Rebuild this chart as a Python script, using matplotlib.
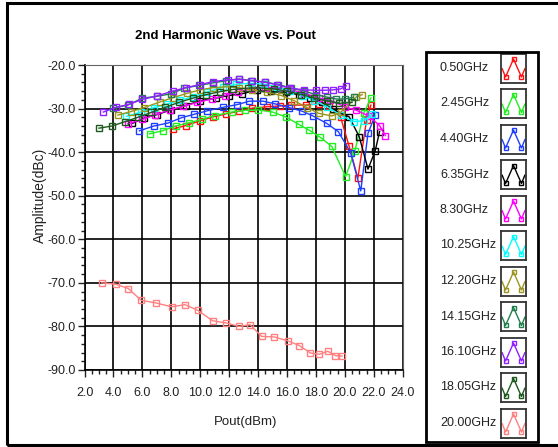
import numpy as np
import matplotlib
matplotlib.use('Agg')
from matplotlib import pyplot as plt
from matplotlib.patches import Rectangle
from matplotlib.ticker import MultipleLocator, FormatStrFormatter

# Pout (dBm) and 2nd harmonic amplitude (dBc), one pair per frequency
p_050 = [8.1, 9.0, 10.0, 10.9, 11.8, 12.7, 13.6, 14.6, 15.5, 16.3, 17.3, 18.2, 18.9, 19.7, 20.3, 20.9, 21.5, 21.8]
a_050 = [-34.7, -33.9, -32.8, -31.9, -31.2, -30.6, -29.9, -29.6, -29.4, -29.2, -29.2, -28.9, -29.5, -31.9, -38.7, -46.0, -32.6, -29.2]

p_245 = [6.5, 7.4, 8.3, 9.2, 10.1, 11.0, 12.2, 13.1, 14.0, 15.0, 15.9, 16.8, 17.5, 18.3, 19.1, 20.05, 20.7, 21.3, 21.8]
a_245 = [-35.8, -35.1, -34.0, -33.3, -32.5, -31.6, -30.8, -30.4, -30.3, -30.8, -31.9, -33.6, -34.9, -36.6, -38.7, -45.6, -39.7, -31.1, -27.6]

p_440 = [5.8, 6.8, 7.8, 8.7, 9.6, 10.5, 11.6, 12.55, 13.4, 14.35, 15.15, 16.15, 17.05, 17.8, 18.75, 19.55, 20.4, 21.1, 21.6, 22.1]
a_440 = [-35.1, -34.0, -33.3, -32.1, -31.3, -30.5, -29.7, -29.1, -28.3, -28.3, -28.9, -29.8, -30.6, -31.7, -33.4, -35.3, -40.1, -48.9, -35.7, -31.5]

p_635 = [5.3, 6.1, 7.0, 8.0, 9.0, 10.0, 11.1, 12.0, 12.9, 13.9, 14.9, 15.9, 16.8, 17.6, 18.4, 19.2, 20.3, 21.0, 21.6, 22.1, 22.4]
a_635 = [-33.4, -32.2, -31.4, -30.3, -29.3, -28.2, -27.6, -27.0, -26.6, -25.8, -26.0, -26.3, -26.8, -27.5, -28.5, -30.2, -31.9, -36.5, -43.9, -39.7, -35.3]

p_830 = [5.0, 6.0, 6.9, 7.9, 8.8, 9.8, 10.8, 11.7, 12.6, 13.6, 14.5, 15.3, 16.2, 17.2, 18.2, 19.0, 20.0, 20.8, 21.7, 22.4, 22.8]
a_830 = [-33.5, -32.5, -31.4, -30.3, -29.5, -28.6, -27.8, -27.0, -26.1, -25.5, -25.2, -25.1, -25.6, -26.5, -27.6, -28.1, -29.6, -30.4, -31.8, -33.9, -36.2]

p_1025 = [4.9, 5.9, 6.8, 7.7, 8.6, 9.5, 10.5, 11.6, 12.5, 13.5, 14.4, 15.3, 16.2, 17.1, 17.9, 18.8, 19.7, 20.6, 21.3, 21.9]
a_1025 = [-31.8, -30.8, -29.8, -29.0, -28.1, -27.3, -26.2, -25.0, -24.4, -24.2, -24.4, -25.0, -25.9, -27.0, -28.2, -29.6, -31.5, -33.0, -32.8, -31.3]

p_1220 = [4.3, 5.2, 6.1, 7.2, 8.1, 9.1, 10.0, 10.9, 11.8, 12.7, 13.6, 14.6, 15.6, 16.5, 17.4, 18.2, 19.1, 19.7, 20.8, 21.2]
a_1220 = [-31.5, -30.7, -29.8, -28.5, -27.5, -26.5, -25.7, -25.2, -25.0, -25.2, -25.7, -26.3, -27.0, -28.2, -29.8, -31.1, -31.7, -30.9, -27.3, -26.8]

p_1415 = [4.0, 5.0, 6.0, 7.0, 8.0, 8.9, 9.9, 10.9, 11.8, 12.7, 13.5, 14.5, 15.4, 16.3, 17.2, 18.0, 18.8, 19.4, 20.0, 20.6]
a_1415 = [-29.9, -29.2, -27.6, -27.2, -26.6, -25.3, -24.7, -24.1, -23.6, -23.2, -23.6, -23.9, -24.5, -25.3, -26.0, -26.8, -27.4, -27.8, -27.8, -27.4]

p_1610 = [3.3, 4.2, 5.1, 6.0, 7.0, 8.1, 9.0, 10.0, 10.9, 11.9, 12.7, 13.6, 14.5, 15.3, 16.2, 17.2, 18.0, 18.6, 19.2, 19.7, 20.1]
a_1610 = [-30.8, -29.7, -29.0, -27.9, -27.1, -26.0, -25.2, -24.5, -23.8, -23.4, -23.3, -23.6, -24.0, -24.5, -25.3, -25.7, -25.8, -25.8, -25.7, -25.5, -24.8]

p_1805 = [3.0, 3.9, 4.8, 5.7, 6.6, 7.6, 8.5, 9.5, 10.4, 11.4, 12.3, 13.3, 14.2, 15.1, 16.0, 17.0, 17.9, 18.8, 19.6, 20.5]
a_1805 = [-34.5, -34.0, -33.0, -32.0, -30.9, -29.7, -28.6, -27.6, -26.8, -26.1, -25.6, -25.3, -25.3, -25.5, -26.0, -26.8, -27.6, -28.3, -28.8, -28.6]

p_2000 = [3.19, 4.16, 5.03, 5.91, 6.92, 8.03, 8.95, 9.83, 10.86, 11.79, 12.68, 13.45, 14.25, 15.1, 16.05, 16.86, 17.62, 18.24, 18.82, 19.35, 19.81]
a_2000 = [-70.0, -70.3, -71.3, -74.0, -74.6, -75.5, -75.0, -76.3, -78.7, -79.2, -80.0, -79.6, -82.3, -82.4, -83.3, -84.4, -86.1, -86.4, -85.7, -86.7, -86.8]

labels = ['0.50GHz', '2.45GHz', '4.40GHz', '6.35GHz', '8.30GHz', '10.25GHz',
          '12.20GHz', '14.15GHz', '16.10GHz', '18.05GHz', '20.00GHz']
colors = ['#ff1010', '#22ee22', '#1f3fff', '#000000', '#ff00ff', '#00ffff',
          '#9a9520', '#1f7f4f', '#8f20ff', '#1e5a1e', '#ff8080']
xs = [p_050, p_245, p_440, p_635, p_830, p_1025, p_1220, p_1415, p_1610, p_1805, p_2000]
ys = [a_050, a_245, a_440, a_635, a_830, a_1025, a_1220, a_1415, a_1610, a_1805, a_2000]

W, H = 558, 447
plt.rcParams['font.family'] = ['Liberation Sans', 'DejaVu Sans']


def fx(px):
    return px / W


def fy(py):
    return 1 - py / H


fig = plt.figure(figsize=(W / 100, H / 100), dpi=100)
fig.patch.set_facecolor('white')

# outer frame (right side runs off the picture)
fig.add_artist(Rectangle((fx(7), fy(445)), fx(600), (445 - 3) / H, transform=fig.transFigure,
                         fill=False, edgecolor='black', linewidth=2.2))

ax = fig.add_axes([fx(84.5), fy(370), (402.7 - 84.5) / W, (370 - 65) / H])
for x, y, c in zip(xs, ys, colors):
    ax.plot(x, y, color=c, linewidth=1.0, marker='s', markersize=4.2,
            markerfacecolor='none', markeredgecolor=c, markeredgewidth=1.0, zorder=3)

ax.set_xlim(2, 24)
ax.set_ylim(-90, -20)
ax.xaxis.set_major_locator(MultipleLocator(2))
ax.xaxis.set_minor_locator(MultipleLocator(0.5))
ax.yaxis.set_major_locator(MultipleLocator(10))
ax.yaxis.set_minor_locator(MultipleLocator(2))
ax.xaxis.set_major_formatter(FormatStrFormatter('%.1f'))
ax.yaxis.set_major_formatter(FormatStrFormatter('%.1f'))
ax.grid(True, which='major', color='black', linewidth=1.2, zorder=1)
ax.set_axisbelow(True)
ax.tick_params(axis='both', which='major', labelsize=9, colors='#222222', length=5, width=1)
ax.tick_params(axis='both', which='minor', length=3, width=1, colors='#222222')
ax.tick_params(axis='x', which='major', pad=7)
ax.tick_params(axis='y', which='major', pad=1.5)
for s in ['top', 'right']:
    ax.spines[s].set_color('#666666')
for s in ['left', 'bottom']:
    ax.spines[s].set_color('black')
    ax.spines[s].set_linewidth(1.2)

fig.text(fx(40), fy(195), 'Amplitude(dBc)', rotation=90, ha='center', va='center',
         fontsize=10, color='#222222')
fig.text(fx(246), fy(422), 'Pout(dBm)', ha='center', va='center', fontsize=9.5, color='#222222')
fig.text(fx(225), fy(36), '2nd Harmonic Wave vs. Pout', ha='center', va='center',
         fontsize=9.5, fontweight='bold', color='black')

# legend panel
fig.add_artist(Rectangle((fx(426), fy(442)), (538 - 426) / W, (442 - 52) / H,
                         transform=fig.transFigure, fill=False, edgecolor='black', linewidth=2))
for i, (lab, c) in enumerate(zip(labels, colors)):
    yc = 68 + i * 35.5
    fig.text(fx(440), fy(yc), lab, ha='left', va='center', fontsize=9, color='#222222')
    ia = fig.add_axes([fx(501), fy(yc + 14.5), 25 / W, 29 / H])
    ia.plot([0.0, 0.15, 0.5, 0.85, 1.0], [0.5, 0.2, 0.85, 0.2, 0.5], color=c, linewidth=1.0)
    ia.plot([0.15, 0.5, 0.85], [0.2, 0.85, 0.2], linestyle='none', marker='s', markersize=3.5,
            markerfacecolor='none', markeredgecolor=c, markeredgewidth=1.0)
    ia.set_xlim(-0.05, 1.05)
    ia.set_ylim(0, 1.05)
    ia.set_xticks([])
    ia.set_yticks([])
    for s in ia.spines.values():
        s.set_color('#333333')
        s.set_linewidth(1.3)

fig.savefig('out.png', dpi=100)
